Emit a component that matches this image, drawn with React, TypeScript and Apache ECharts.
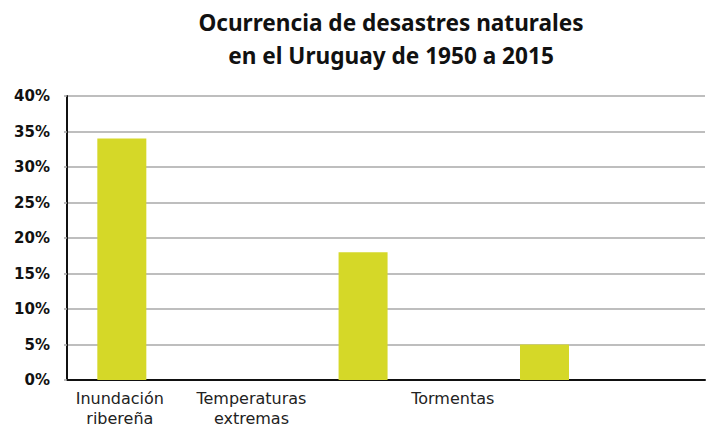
import React, { useEffect, useRef } from "react";
import * as echarts from "echarts";

// Data
const categories = ["Inundación\nribereña", "Temperaturas\nextremas", "Tormentas"];
const values = [34, 18, 5];
const yTicks = [0, 5, 10, 15, 20, 25, 30, 35, 40];
const titleLines = ["Ocurrencia de desastres naturales", "en el Uruguay de 1950 a 2015"];

// Layout (slot indices on a fine category band, not data)
const SLOTS = 320;
const barSlots = [27, 148, 239];
const labelSlots = [26, 92, 193];

export default function App() {
  const ref = useRef<HTMLDivElement>(null);
  useEffect(() => {
    if (!ref.current) return;
    const chart = echarts.init(ref.current, undefined, { renderer: "svg" });
    const slotNames: string[] = [];
    const slotLabels: string[] = [];
    const slotValues: (number | null)[] = [];
    for (let i = 0; i < SLOTS; i++) {
      slotNames.push("s" + i);
      slotLabels.push("");
      slotValues.push(null);
    }
    categories.forEach((c, k) => {
      slotLabels[labelSlots[k]] = c;
      slotValues[barSlots[k]] = values[k];
    });
    chart.setOption({
      animation: false,
      backgroundColor: "#ffffff",
      title: {
        text: titleLines.join("\n"),
        left: 391,
        top: 6,
        padding: 0,
        textAlign: "center",
        textStyle: {
          fontFamily: "Noto Sans",
          fontWeight: "bold",
          fontSize: 22.6,
          lineHeight: 33,
          color: "#111111",
        },
      },
      grid: { left: 67, right: 0, top: 96, bottom: 46 },
      xAxis: {
        type: "category",
        data: slotNames,
        axisLine: { show: true, lineStyle: { color: "#111111", width: 2 } },
        axisTick: { show: false },
        splitLine: { show: false },
        axisLabel: {
          interval: 0,
          formatter: (_v: string, idx: number) => slotLabels[idx],
          fontFamily: "DejaVu Sans",
          fontSize: 16,
          lineHeight: 20,
          color: "#222222",
          margin: 8,
        },
      },
      yAxis: {
        type: "value",
        min: yTicks[0],
        max: yTicks[yTicks.length - 1],
        interval: 5,
        axisLine: { show: true, lineStyle: { color: "#111111", width: 2 } },
        axisTick: { show: true, length: 3, lineStyle: { color: "#a6a6a6", width: 1.5 } },
        splitLine: { show: true, lineStyle: { color: "#a8a8a8", width: 1.5 } },
        axisLabel: {
          formatter: "{value}%",
          fontFamily: "DejaVu Sans",
          fontWeight: "bold",
          fontSize: 15,
          color: "#111111",
          margin: 17,
        },
      },
      series: [
        {
          type: "bar",
          data: slotValues,
          barWidth: 49,
          itemStyle: { color: "#d5d828" },
        },
      ],
    });
    return () => chart.dispose();
  }, []);
  return (
    <div
      ref={ref}
      style={{ position: "fixed", left: 0, top: 0, width: 707, height: 428 }}
    />
  );
}
